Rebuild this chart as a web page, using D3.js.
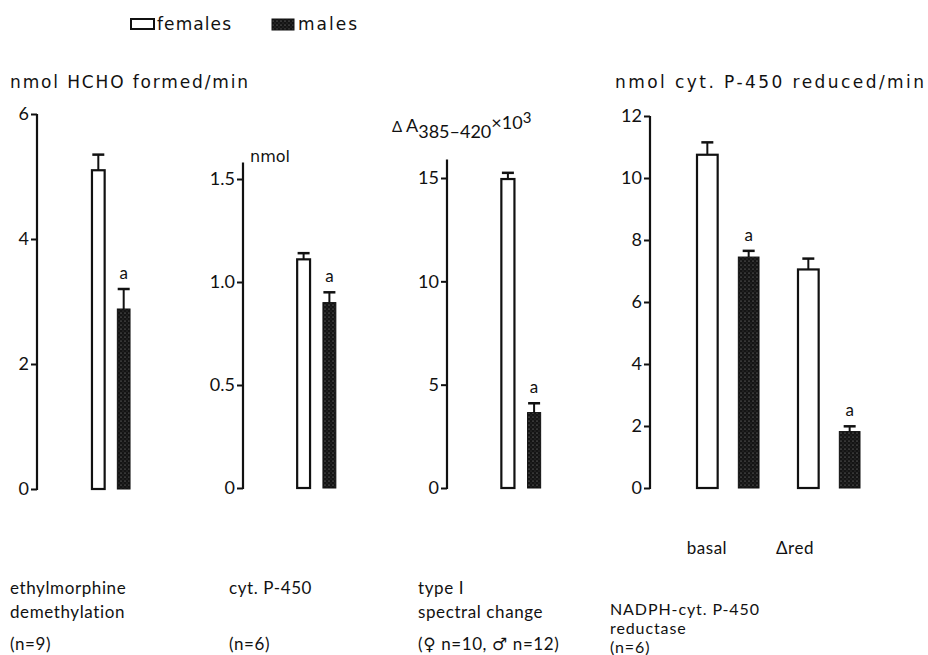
<!DOCTYPE html>
<html>
<head>
<meta charset="utf-8">
<script src="https://cdn.jsdelivr.net/npm/d3@7"></script>
<style>
  body { margin: 0; background: #fff; }
  svg { display: block; }
  text { font-family: "Lato", "DejaVu Sans", sans-serif; fill: #111; }
  text.wide { font-family: "DejaVu Sans", sans-serif; }
</style>
</head>
<body>
<svg id="chart" width="928" height="655"></svg>
<script>
// data
const groups      = ['demethylation', 'P-450', 'type I', 'basal', '\u0394red'];
const groupPanel  = [0, 1, 2, 3, 3];
const femaleMean  = [5.1, 1.11, 14.95, 10.75, 7.05];
const femaleErr   = [0.25, 0.03, 0.3, 0.4, 0.35];
const maleMean    = [2.88, 0.90, 3.65, 7.45, 1.82];
const maleErr     = [0.32, 0.05, 0.45, 0.2, 0.17];
const maleSignif  = ['a', 'a', 'a', 'a', 'a'];

const yMax      = [6, 1.5, 15, 12];
const axisTop   = [6, 1.58, 15.9, 12];
const yTicks    = [[0, 2, 4, 6], [0, 0.5, 1.0, 1.5], [0, 5, 10, 15], [0, 2, 4, 6, 8, 10, 12]];
const tickFmt   = [d3.format('d'), v => v === 0 ? '0' : d3.format('.1f')(v), d3.format('d'), d3.format('d')];

// layout (pixels)
const panels = [
  {axisX: 37,  y0: 489, y1: 114, bars: [80, 142]},
  {axisX: 243, y0: 488, y1: 179, bars: [285, 348]},
  {axisX: 447, y0: 488, y1: 178, bars: [489, 553]},
  {axisX: 650, y0: 488, y1: 116, bars: [697, 860]}
];
const subShift = {3: 10, 4: -3};

const svg = d3.select('#chart');

// stipple pattern for the male bars
const defs = svg.append('defs');
const pat = defs.append('pattern')
  .attr('id', 'stipple').attr('patternUnits', 'userSpaceOnUse')
  .attr('width', 4).attr('height', 4);
pat.append('rect').attr('width', 4).attr('height', 4).attr('fill', '#141414');
pat.append('circle').attr('cx', 1).attr('cy', 1).attr('r', 0.55).attr('fill', '#9a9a9a');
pat.append('circle').attr('cx', 3).attr('cy', 3).attr('r', 0.45).attr('fill', '#707070');

// legend
const legend = svg.append('g');
legend.append('rect').attr('x', 131).attr('y', 19).attr('width', 23).attr('height', 10)
  .attr('fill', '#fff').attr('stroke', '#111').attr('stroke-width', 2);
legend.append('text').attr('class', 'wide').attr('x', 157).attr('y', 30).attr('font-size', 17)
  .attr('textLength', 74).attr('lengthAdjust', 'spacing').text('females');
legend.append('rect').attr('x', 272).attr('y', 19).attr('width', 22).attr('height', 11)
  .attr('fill', 'url(#stipple)').attr('stroke', '#111').attr('stroke-width', 1);
legend.append('text').attr('class', 'wide').attr('x', 298).attr('y', 30).attr('font-size', 17)
  .attr('textLength', 59).attr('lengthAdjust', 'spacing').text('males');

const inner = d3.scaleBand().domain(['f', 'm']).paddingInner(0.5);

panels.forEach((p, i) => {
  const y = d3.scaleLinear().domain([0, yMax[i]]).range([p.y0, p.y1]);
  const idx = d3.range(groups.length).filter(k => groupPanel[k] === i);
  const x = d3.scaleBand().domain(idx).range(p.bars).paddingInner(0.386);
  inner.range([0, x.bandwidth()]);

  const g = svg.append('g');

  // axis
  const ax = g.append('g')
    .attr('transform', `translate(${p.axisX},0)`)
    .call(d3.axisLeft(y).tickValues(yTicks[i]).tickFormat(tickFmt[i]).tickSize(6).tickSizeOuter(0));
  ax.select('.domain').remove();
  ax.selectAll('.tick line').attr('stroke', '#111').attr('stroke-width', 2);
  ax.selectAll('.tick text').attr('font-size', 18).style('font-family', 'Lato, sans-serif').attr('fill', '#111').attr('x', -8);
  ax.append('line').attr('y1', y(0) + 1).attr('y2', y(axisTop[i]))
    .attr('stroke', '#111').attr('stroke-width', 2.2);

  const data = [];
  idx.forEach(k => {
    data.push({k, sex: 'f', mean: femaleMean[k], err: femaleErr[k], mark: ''});
    data.push({k, sex: 'm', mean: maleMean[k], err: maleErr[k], mark: maleSignif[k]});
  });

  const bx = d => x(d.k) + inner(d.sex);
  const bw = inner.bandwidth();

  // error bars (upper half only)
  g.selectAll('.err').data(data).join('line')
    .attr('x1', d => bx(d) + bw / 2).attr('x2', d => bx(d) + bw / 2)
    .attr('y1', d => y(d.mean)).attr('y2', d => y(d.mean + d.err))
    .attr('stroke', '#111').attr('stroke-width', 2);
  g.selectAll('.cap').data(data).join('line')
    .attr('x1', d => bx(d) + bw / 2 - 6).attr('x2', d => bx(d) + bw / 2 + 6)
    .attr('y1', d => y(d.mean + d.err)).attr('y2', d => y(d.mean + d.err))
    .attr('stroke', '#111').attr('stroke-width', 2.5);

  // bars
  g.selectAll('.bar').data(data).join('rect')
    .attr('x', d => bx(d)).attr('width', bw)
    .attr('y', d => y(d.mean)).attr('height', d => y(0) - y(d.mean))
    .attr('fill', d => d.sex === 'f' ? '#fff' : 'url(#stipple)')
    .attr('stroke', '#111').attr('stroke-width', d => d.sex === 'f' ? 2.2 : 1);

  // significance marks
  g.selectAll('.sig').data(data.filter(d => d.mark)).join('text')
    .attr('x', d => bx(d) + bw / 2).attr('y', d => y(d.mean + d.err) - 10)
    .attr('text-anchor', 'middle').attr('font-size', 17).text(d => d.mark);

  // sub-group labels under the reductase panel
  if (idx.length > 1) {
    g.selectAll('.sub').data(idx).join('text')
      .attr('x', k => x(k) + subShift[k]).attr('y', 554)
      .attr('text-anchor', 'middle').attr('font-size', 17)
      .attr('letter-spacing', 0.5).text(k => groups[k]);
  }
});

// axis titles
svg.append('text').attr('class', 'wide').attr('x', 10).attr('y', 88).attr('font-size', 17)
  .attr('textLength', 238).attr('lengthAdjust', 'spacing').text('nmol HCHO formed/min');
svg.append('text').attr('class', 'wide').attr('x', 250).attr('y', 162).attr('font-size', 16).text('nmol');
const t3 = svg.append('text').attr('x', 392).attr('y', 132).attr('font-size', 18);
t3.append('tspan').attr('font-size', 15).text('\u0394 ');
t3.append('tspan').text('A');
t3.append('tspan').attr('dy', 6).text('385\u2013420');
t3.append('tspan').attr('dy', -9).text('\u00d710');
t3.append('tspan').attr('dy', -6).attr('font-size', 15).text('3');
svg.append('text').attr('class', 'wide').attr('x', 615).attr('y', 88).attr('font-size', 17)
  .attr('textLength', 309).attr('lengthAdjust', 'spacing').text('nmol cyt. P-450 reduced/min');

// captions below the panels
const captions = [
  {x: 10,  size: 17, lines: [[594, 'ethylmorphine'], [618, 'demethylation'], [650, '(n=9)']]},
  {x: 229, size: 17, lines: [[594, 'cyt. P-450'], [650, '(n=6)']]},
  {x: 418, size: 17, lines: [[594, 'type I'], [618, 'spectral change'], [650, '(\u2640 n=10, \u2642 n=12)']]},
  {x: 610, size: 16, lines: [[615, 'NADPH-cyt. P-450'], [634, 'reductase'], [653, '(n=6)']]}
];
captions.forEach(c => {
  c.lines.forEach(([yy, s]) => {
    svg.append('text').attr('x', c.x).attr('y', yy).attr('font-size', c.size)
      .attr('letter-spacing', c.size === 17 ? 0.6 : 0.9).text(s);
  });
});
</script>
</body>
</html>
